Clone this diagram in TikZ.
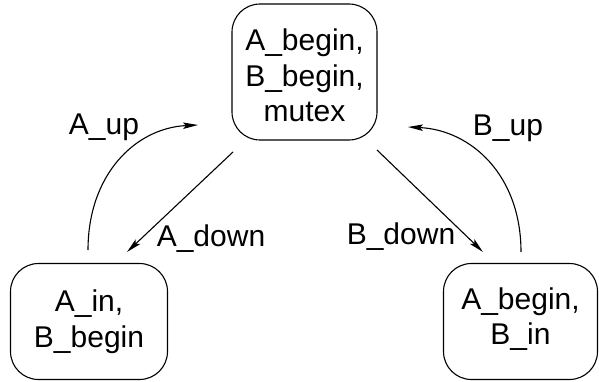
\documentclass[tikz,border=0pt]{standalone}
\usepackage{fontspec}
\setmainfont{Liberation Sans}
\usetikzlibrary{arrows.meta}
\begin{document}
\begin{tikzpicture}[x=1pt,y=-1pt,
  state/.style={draw,line width=1.1pt,rounded corners=28pt,inner sep=0pt},
  statetext/.style={align=center,inner sep=0pt,font=\fontsize{30}{35.5}\selectfont},
  lbl/.style={anchor=base,inner sep=0pt,font=\fontsize{30}{35.5}\selectfont},
  trans/.style={line width=1.1pt,-{Stealth[length=15pt,width=6.5pt,inset=3pt]}}]
\useasboundingbox (0,0) rectangle (599,382);

% states: frames
\node[state,minimum width=145pt,minimum height=136pt] (top) at (304.5,72) {};
\node[state,minimum width=157pt,minimum height=116pt] (left) at (89,321.5) {};
\node[state,minimum width=154pt,minimum height=116pt] (right) at (520.5,321.5) {};

% states: contents
\node[statetext] (toptext) at (304.5,75.5) {A\_begin,\\B\_begin,\\mutex};
\node[statetext] (lefttext) at (89,321.5) {A\_in,\\B\_begin};
\node[statetext] (righttext) at (520.5,319) {A\_begin,\\B\_in};

% connector end points
\coordinate (adS) at (233,152);
\coordinate (adE) at (127,252);
\coordinate (auS) at (88,250);
\coordinate (auE) at (198,125);
\coordinate (bdS) at (377,150);
\coordinate (bdE) at (483,252);
\coordinate (buS) at (521,252);
\coordinate (buE) at (408,127);

% transitions
\draw[trans] (adS) -- (adE);
\draw[trans] (bdS) -- (bdE);
\draw[trans] (auS) .. controls (88,175) and (135,128) .. (auE);
\draw[trans] (buS) .. controls (521,175) and (471,130) .. (buE);

% transition labels
\node[lbl] (lau) at (104,135) {A\_up};
\node[lbl] (lbu) at (508,136) {B\_up};
\node[lbl] (lad) at (211,246) {A\_down};
\node[lbl] (lbd) at (401,244) {B\_down};
\end{tikzpicture}
\end{document}
